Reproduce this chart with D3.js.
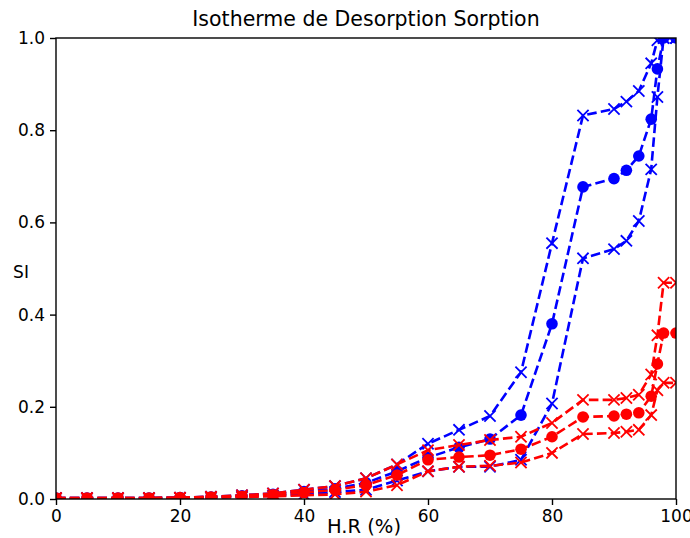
<!DOCTYPE html>
<html>
<head>
<style>
  body { margin: 0; background: #fff; }
  text { font-family: "DejaVu Sans", sans-serif; fill: #000; }
  .tick text { font-size: 17px; }
  .tick line { stroke: #000; stroke-width: 1.4; }
</style>
<script src="https://d3js.org/d3.v7.min.js"></script>
</head>
<body>
<svg width="690" height="538"></svg>
<script>
// humidite relative (%)
var hr = [0, 5, 10, 15, 20, 25, 30, 35, 40, 45, 50, 55, 60, 65, 70, 75, 80, 85, 90, 92, 94, 96, 97, 98, 100];

var blueUp  = [0.002, 0.002, 0.002, 0.002, 0.003, 0.005, 0.008, 0.012, 0.02, 0.028, 0.045, 0.075, 0.12, 0.15, 0.18, 0.275, 0.555, 0.832, 0.846, 0.862, 0.885, 0.945, 0.995, 1.0, 1.0];
var blueMid = [0.002, 0.002, 0.002, 0.002, 0.003, 0.004, 0.007, 0.01, 0.016, 0.022, 0.035, 0.06, 0.09, 0.112, 0.13, 0.182, 0.38, 0.677, 0.695, 0.713, 0.744, 0.824, 0.933, 1.0, 1.0];
var blueLow = [0.001, 0.001, 0.001, 0.001, 0.002, 0.003, 0.005, 0.007, 0.01, 0.015, 0.02, 0.04, 0.06, 0.07, 0.07, 0.085, 0.207, 0.522, 0.542, 0.56, 0.603, 0.715, 0.872, 1.0, 1.0];
var redUp   = [0.002, 0.002, 0.002, 0.002, 0.003, 0.005, 0.008, 0.012, 0.02, 0.028, 0.045, 0.075, 0.106, 0.117, 0.128, 0.135, 0.165, 0.215, 0.215, 0.219, 0.226, 0.27, 0.355, 0.469, 0.469];
var redMid  = [0.002, 0.002, 0.002, 0.002, 0.003, 0.004, 0.006, 0.009, 0.014, 0.02, 0.03, 0.052, 0.085, 0.091, 0.095, 0.108, 0.135, 0.178, 0.18, 0.184, 0.187, 0.223, 0.293, 0.36, 0.36];
var redLow  = [0.001, 0.001, 0.001, 0.001, 0.002, 0.003, 0.004, 0.006, 0.008, 0.01, 0.016, 0.03, 0.06, 0.07, 0.072, 0.079, 0.1, 0.141, 0.143, 0.146, 0.15, 0.182, 0.236, 0.252, 0.252];

var xTicks = [0, 20, 40, 60, 80, 100];
var yTicks = [0, 0.2, 0.4, 0.6, 0.8, 1.0];

var series = [
  { v: blueUp,  color: "blue", mark: "x" },
  { v: blueMid, color: "blue", mark: "o" },
  { v: blueLow, color: "blue", mark: "x" },
  { v: redUp,   color: "red",  mark: "x" },
  { v: redMid,  color: "red",  mark: "o" },
  { v: redLow,  color: "red",  mark: "x" }
];

var svg = d3.select("svg");
var pL = 56, pR = 676, pT = 38, pB = 499;

var x = d3.scaleLinear().domain([0, 100]).range([pL, pR]);
var y = d3.scaleLinear().domain([0, 1]).range([pB, pT]);

svg.append("clipPath").attr("id", "clip")
  .append("rect").attr("x", pL).attr("y", pT)
  .attr("width", pR - pL).attr("height", pB - pT);

var plot = svg.append("g").attr("clip-path", "url(#clip)");

var line = d3.line()
  .x(function(d, i) { return x(hr[i]); })
  .y(function(d) { return y(d); });

series.forEach(function(s) {
  var g = plot.append("g");
  g.append("path")
    .attr("d", line(s.v))
    .attr("fill", "none")
    .attr("stroke", s.color)
    .attr("stroke-width", 2.6)
    .attr("stroke-dasharray", "9.6,4.2");
  var pts = g.selectAll(".pt").data(s.v).enter().append("g")
    .attr("transform", function(d, i) { return "translate(" + x(hr[i]) + "," + y(d) + ")"; });
  if (s.mark == "o") {
    pts.append("circle").attr("r", 5.8).attr("fill", s.color);
  } else {
    pts.append("path").attr("d", "M-5.6,-5.6L5.6,5.6M-5.6,5.6L5.6,-5.6")
      .attr("stroke", s.color).attr("stroke-width", 1.8).attr("fill", "none");
  }
});

// axes
var ax = svg.append("g")
  .attr("transform", "translate(0," + pB + ")")
  .call(d3.axisBottom(x).tickValues(xTicks).tickSize(6).tickPadding(5).tickFormat(d3.format("d")));
var ay = svg.append("g")
  .attr("transform", "translate(" + pL + ",0)")
  .call(d3.axisLeft(y).tickValues(yTicks).tickSize(6).tickPadding(5).tickFormat(d3.format(".1f")));
ax.select(".domain").remove();
ay.select(".domain").remove();
svg.append("rect").attr("x", pL).attr("y", pT).attr("width", pR - pL).attr("height", pB - pT)
  .attr("fill", "none").attr("stroke", "#000").attr("stroke-width", 1.4);

svg.append("text")
  .attr("x", (pL + pR) / 2).attr("y", 26)
  .attr("text-anchor", "middle").style("font-size", "20.5px")
  .text("Isotherme de Desorption Sorption");
svg.append("text")
  .attr("x", (pL + pR) / 2 - 2).attr("y", 533)
  .attr("text-anchor", "middle").style("font-size", "19.5px")
  .text("H.R (%)");
svg.append("text")
  .attr("x", 21).attr("y", 278)
  .attr("text-anchor", "middle").style("font-size", "17px")
  .text("SI");
</script>
</body>
</html>
